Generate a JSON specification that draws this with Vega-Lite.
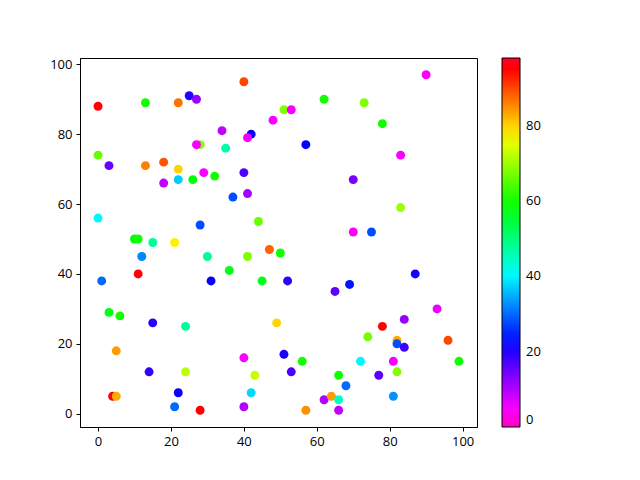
{
  "$schema": "https://vega.github.io/schema/vega-lite/v6.json",
  "autosize": {"type": "none"},
  "padding": {"left": 80, "top": 58, "right": 163, "bottom": 53},
  "width": 397,
  "height": 369,
  "background": "white",
  "config": {
    "view": {"stroke": "black", "strokeWidth": 1},
    "font": "Open Sans",
    "axis": {"grid": false, "domain": true, "domainColor": "black", "tickColor": "black", "tickSize": 4, "labelFontSize": 13, "labelColor": "black", "labelPadding": 4, "labelFont": "Open Sans"},
    "legend": {"labelFontSize": 13, "labelColor": "black", "labelFont": "Open Sans"}
  },
  "data": {"values": [
    {"x":0,"y":88,"c":95},{"x":13,"y":89,"c":60},{"x":22,"y":89,"c":87},{"x":25,"y":91,"c":20},{"x":27,"y":90,"c":12},
    {"x":40,"y":95,"c":90},{"x":48,"y":84,"c":5},{"x":34,"y":81,"c":9},{"x":42,"y":80,"c":22},{"x":41,"y":79,"c":5},
    {"x":28,"y":77,"c":68},{"x":27,"y":77,"c":5},{"x":35,"y":76,"c":47},{"x":0,"y":74,"c":66},{"x":3,"y":71,"c":15},
    {"x":13,"y":71,"c":86},{"x":18,"y":72,"c":89},{"x":22,"y":70,"c":80},{"x":29,"y":69,"c":5},{"x":32,"y":68,"c":60},
    {"x":40,"y":69,"c":17},{"x":18,"y":66,"c":9},{"x":22,"y":67,"c":37},{"x":26,"y":67,"c":58},{"x":41,"y":63,"c":11},
    {"x":37,"y":62,"c":28},{"x":0,"y":56,"c":40},{"x":44,"y":55,"c":66},{"x":28,"y":54,"c":28},{"x":10,"y":50,"c":58},
    {"x":11,"y":50,"c":60},{"x":15,"y":49,"c":48},{"x":21,"y":49,"c":78},{"x":47,"y":47,"c":88},{"x":90,"y":97,"c":5},
    {"x":62,"y":90,"c":60},{"x":73,"y":89,"c":68},{"x":51,"y":87,"c":68},{"x":53,"y":87,"c":5},{"x":78,"y":83,"c":60},
    {"x":57,"y":77,"c":22},{"x":83,"y":74,"c":5},{"x":70,"y":67,"c":14},{"x":83,"y":59,"c":70},{"x":70,"y":52,"c":5},
    {"x":75,"y":52,"c":28},{"x":50,"y":46,"c":60},{"x":12,"y":45,"c":32},{"x":30,"y":45,"c":48},{"x":41,"y":45,"c":68},
    {"x":36,"y":41,"c":57},{"x":11,"y":40,"c":96},{"x":1,"y":38,"c":30},{"x":31,"y":38,"c":22},{"x":45,"y":38,"c":57},
    {"x":3,"y":29,"c":57},{"x":6,"y":28,"c":60},{"x":15,"y":26,"c":20},{"x":24,"y":25,"c":48},{"x":49,"y":26,"c":80},
    {"x":5,"y":18,"c":84},{"x":40,"y":16,"c":5},{"x":14,"y":12,"c":19},{"x":24,"y":12,"c":72},{"x":43,"y":11,"c":73},
    {"x":4,"y":5,"c":96},{"x":5,"y":5,"c":83},{"x":22,"y":6,"c":22},{"x":42,"y":6,"c":38},{"x":21,"y":2,"c":30},
    {"x":28,"y":1,"c":95},{"x":40,"y":2,"c":10},{"x":52,"y":38,"c":19},{"x":65,"y":35,"c":16},{"x":69,"y":37,"c":24},
    {"x":87,"y":40,"c":21},{"x":93,"y":30,"c":6},{"x":84,"y":27,"c":12},{"x":78,"y":25,"c":95},{"x":74,"y":22,"c":67},
    {"x":82,"y":21,"c":83},{"x":82,"y":20,"c":28},{"x":84,"y":19,"c":18},{"x":96,"y":21,"c":90},{"x":51,"y":17,"c":21},
    {"x":56,"y":15,"c":60},{"x":53,"y":12,"c":17},{"x":72,"y":15,"c":40},{"x":81,"y":15,"c":5},{"x":99,"y":15,"c":60},
    {"x":66,"y":11,"c":60},{"x":77,"y":11,"c":16},{"x":82,"y":12,"c":68},{"x":68,"y":8,"c":30},{"x":62,"y":4,"c":10},
    {"x":64,"y":5,"c":84},{"x":66,"y":4,"c":45},{"x":66,"y":1,"c":9},{"x":57,"y":1,"c":85},{"x":81,"y":5,"c":33}
  ]},
  "mark": {"type": "circle", "size": 80, "opacity": 1},
  "encoding": {
    "x": {"field": "x", "type": "quantitative", "scale": {"domain": [-4.95, 103.95], "nice": false, "zero": false},
          "axis": {"values": [0, 20, 40, 60, 80, 100], "title": null}},
    "y": {"field": "y", "type": "quantitative", "scale": {"domain": [-3.8, 101.8], "nice": false, "zero": false},
          "axis": {"values": [0, 20, 40, 60, 80, 100], "title": null}},
    "color": {"field": "c", "type": "quantitative",
      "scale": {"domain": [0, 4.5, 22.5, 40.6, 58.8, 76.9, 95.1, 98],
                "range": ["#ff00bf", "#ff00ff", "#0000ff", "#00ffff", "#00ff00", "#ffff00", "#ff0000", "#ff0029"],
                "interpolate": "rgb"},
      "legend": {"title": null, "orient": "none", "legendX": 422, "legendY": 0, "direction": "vertical",
                 "gradientLength": 369, "gradientThickness": 18, "gradientStrokeColor": "black", "gradientStrokeWidth": 1,
                 "values": [0, 20, 40, 60, 80], "labelOffset": 6, "labelBaseline": "middle",
                 "encode": {"labels": {"update": {"baseline": {"value": "middle"}}}}}}
  }
}
